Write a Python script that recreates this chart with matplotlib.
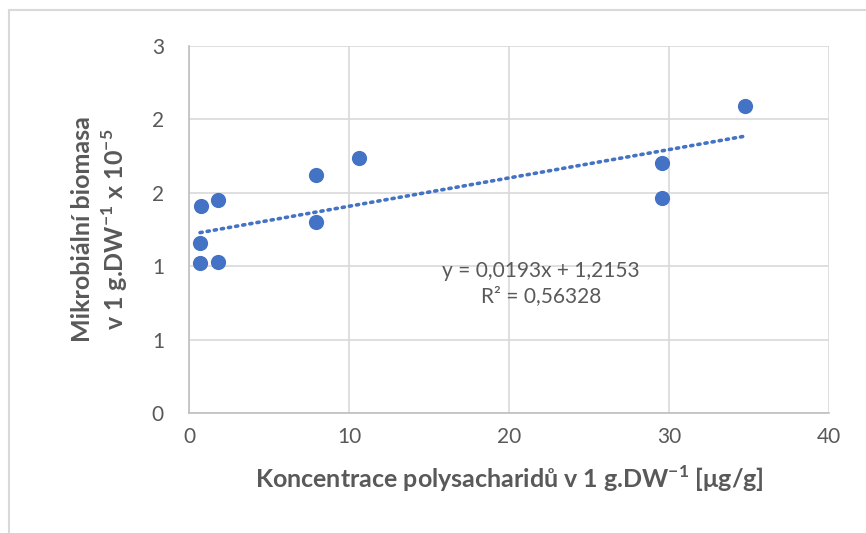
import matplotlib.pyplot as plt
from matplotlib.lines import Line2D
import numpy as np

plt.rcParams['font.family'] = ['Lato', 'DejaVu Sans']
plt.rcParams['mathtext.fontset'] = 'custom'
plt.rcParams['mathtext.rm'] = 'Lato'
plt.rcParams['mathtext.bf'] = 'Lato:bold'

# data
x_vals = [0.75, 1.81, 0.69, 0.69, 1.81, 7.94, 7.94, 10.6, 29.56, 29.56, 34.75]
y_vals = [1.41, 1.45, 1.16, 1.02, 1.03, 1.62, 1.30, 1.74, 1.70, 1.465, 2.09]
slope = 0.0193
intercept = 1.2153
r2_label = 'R² = 0,56328'
eq_label = 'y = 0,0193x + 1,2153'
x_ticks = [0, 10, 20, 30, 40]
y_ticks = [0, 0.5, 1.0, 1.5, 2.0, 2.5]
y_tick_labels = ['0', '1', '1', '2', '2', '3']

blue = '#4472C4'
text_gray = '#595959'

fig = plt.figure(figsize=(8.66, 5.33), dpi=100)
ax = fig.add_axes([189 / 866, 1 - 413 / 533, 640 / 866, 367 / 533])

ax.scatter(x_vals, y_vals, s=120, color=blue, zorder=3, linewidths=0)

xs = np.array([min(x_vals), max(x_vals)])
ax.plot(xs, slope * xs + intercept, linestyle=(0, (0.6, 1.4)), color=blue,
        linewidth=2.6, dash_capstyle='round', zorder=2)

ax.set_xlim(0, 40)
ax.set_ylim(0, 2.5)
ax.set_xticks(x_ticks)
ax.set_yticks(y_ticks)
ax.set_yticklabels(y_tick_labels)
ax.grid(True, color='#D9D9D9', linewidth=1.2)
ax.set_axisbelow(True)
for s in ['top', 'right']:
    ax.spines[s].set_visible(False)
for s in ['left', 'bottom']:
    ax.spines[s].set_color('#BFBFBF')
    ax.spines[s].set_linewidth(1.2)
ax.tick_params(length=0, labelsize=15, labelcolor=text_gray)
ax.tick_params(axis='y', pad=18)
ax.tick_params(axis='x', pad=10)

ax.set_xlabel(r'Koncentrace polysacharidů v 1 g.DW$^{\mathbf{-1}}$ [μg/g]',
              fontsize=18, fontweight='bold', color=text_gray, labelpad=12)
ax.set_ylabel('Mikrobiální biomasa\n' + r'v 1 g.DW$^{\mathbf{-1}}$ x 10$^{\mathbf{-5}}$',
              fontsize=18, fontweight='bold', color=text_gray, labelpad=16,
              linespacing=1.2)

ax.text(0.55, 0.353, eq_label + '\n' + r2_label, transform=ax.transAxes,
        ha='center', va='center', fontsize=15, color=text_gray, linespacing=1.3)

# outer chart border (left and top)
fig.add_artist(Line2D([9 / 866, 9 / 866], [0, 1 - 10 / 533], color='#D9D9D9',
                      linewidth=1.5, transform=fig.transFigure))
fig.add_artist(Line2D([9 / 866, 1], [1 - 10 / 533, 1 - 10 / 533], color='#D9D9D9',
                      linewidth=1.5, transform=fig.transFigure))

fig.savefig('out.png', dpi=100)
